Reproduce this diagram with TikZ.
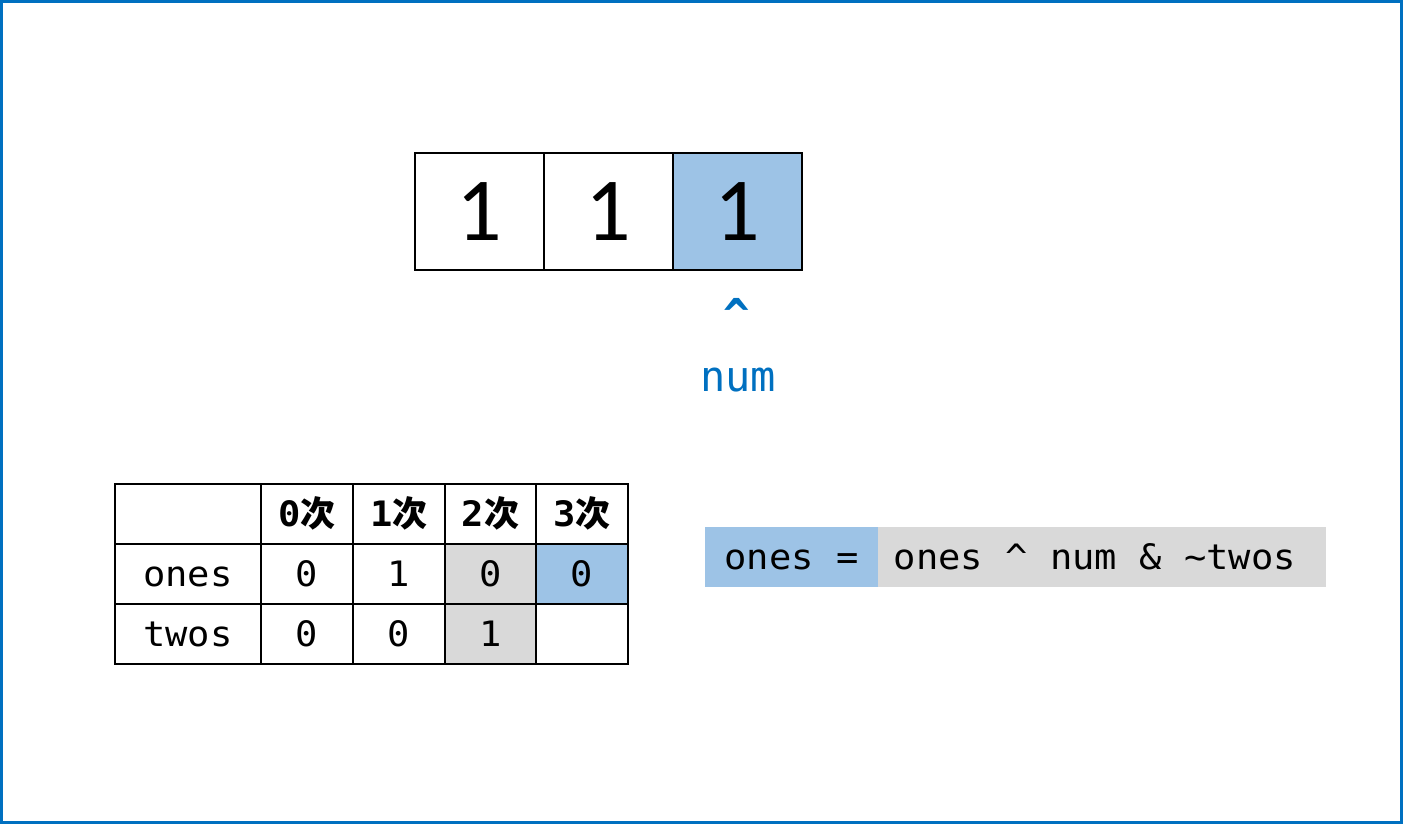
\documentclass[tikz,border=0pt]{standalone}
\usepackage{fontspec}
\setmainfont{Carlito}
\newfontfamily\mono[FakeStretch=1.06]{DejaVu Sans Mono}
\newfontfamily\monon{DejaVu Sans Mono}
\newfontfamily\cjk{Noto Sans CJK SC}
\definecolor{fillblue}{HTML}{9DC3E6}
\definecolor{fillgray}{HTML}{D9D9D9}
\definecolor{framblue}{HTML}{0070C0}
\tikzset{
  bitbox/.style={draw=black, line width=1.5pt, minimum width=129pt, minimum height=117pt, inner sep=0pt, font=\fontsize{90}{90}\selectfont},
  cell/.style={draw=black, line width=1.5pt, minimum height=60pt, inner sep=0pt, text height=25pt, text depth=0pt, font=\mono\fontsize{35}{38}\selectfont},
  codebox/.style={minimum height=60pt, inner sep=0pt, text height=25pt, text depth=0pt, font=\mono\fontsize{35}{38}\selectfont},
  hd/.style={cell, font=\fontsize{35}{38}\selectfont}
}
\newcommand{\hdr}[1]{{\mono\bfseries #1}{\cjk\bfseries\fontsize{35}{38}\selectfont 次}}
\begin{document}
\begin{tikzpicture}[x=1pt,y=-1pt]
\useasboundingbox (0,0) rectangle (1403,824);
\draw[framblue, line width=3pt] (1.5,1.5) rectangle (1401.5,822.5);
% bits
\node[bitbox] (b1) at (479.5,211.5) {1};
\node[bitbox] (b2) at (608.5,211.5) {1};
\node[bitbox, fill=fillblue] (b3) at (737.5,211.5) {1};
\node[text=framblue, font=\monon\bfseries\fontsize{44}{44}\selectfont, anchor=base, inner sep=0pt] (caret) at (737,330) {\^{}};
\node[text=framblue, font=\monon\fontsize{42}{44}\selectfont, anchor=base, inner sep=0pt] (num) at (738,391) {num};
% table
\node[cell, minimum width=146pt] (c00) at (188,514) {};
\node[hd, minimum width=92pt] (c01) at (307,514) {\hdr{0}};
\node[hd, minimum width=92pt] (c02) at (399,514) {\hdr{1}};
\node[hd, minimum width=91pt] (c03) at (490.5,514) {\hdr{2}};
\node[hd, minimum width=92pt] (c04) at (582,514) {\hdr{3}};
\node[cell, minimum width=146pt] (c10) at (188,574) {ones};
\node[cell, minimum width=92pt] (c11) at (307,574) {0};
\node[cell, minimum width=92pt] (c12) at (399,574) {1};
\node[cell, minimum width=91pt, fill=fillgray] (c13) at (490.5,574) {0};
\node[cell, minimum width=92pt, fill=fillblue] (c14) at (582,574) {0};
\node[cell, minimum width=146pt] (c20) at (188,634) {twos};
\node[cell, minimum width=92pt] (c21) at (307,634) {0};
\node[cell, minimum width=92pt] (c22) at (399,634) {0};
\node[cell, minimum width=91pt, fill=fillgray] (c23) at (490.5,634) {1};
\node[cell, minimum width=92pt] (c24) at (582,634) {};
% formula
\node[codebox, fill=fillblue, minimum width=173pt] (lhs) at (791.5,557) {ones =};
\node[codebox, fill=fillgray, minimum width=448pt] (rhs) at (1102,557) {\hspace*{-14pt}ones \^{} num \& \textasciitilde twos};
\end{tikzpicture}
\end{document}
